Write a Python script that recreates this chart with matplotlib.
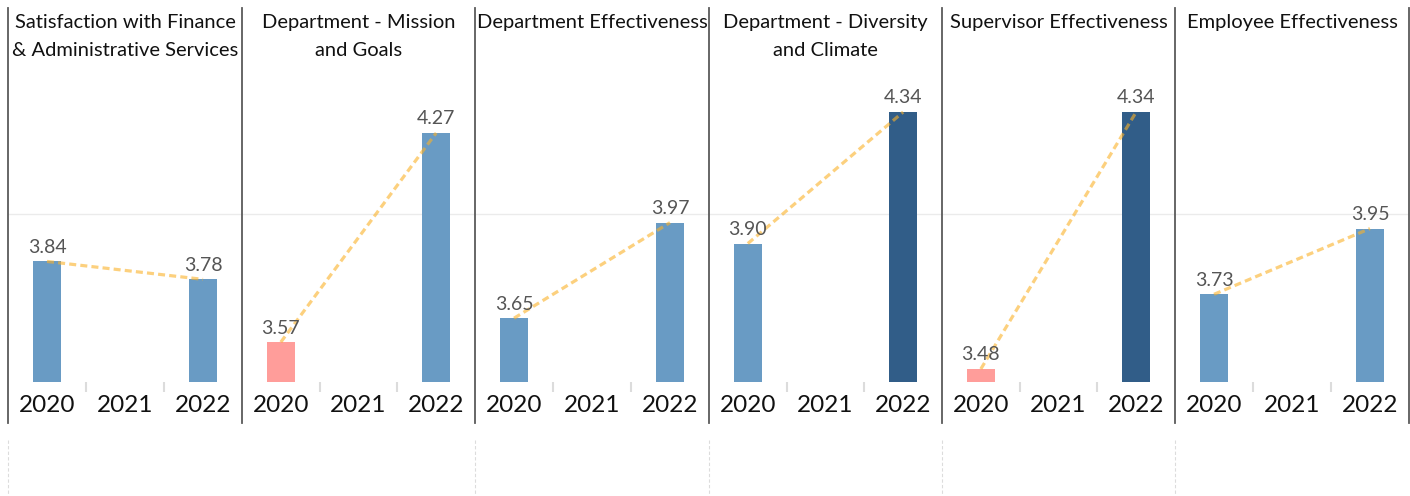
import matplotlib
matplotlib.use('Agg')
import matplotlib.pyplot as plt
from matplotlib.lines import Line2D

plt.rcParams['font.family'] = ['Lato', 'DejaVu Sans']

titles = ['Satisfaction with Finance\n& Administrative Services',
          'Department - Mission\nand Goals',
          'Department Effectiveness',
          'Department - Diversity\nand Climate',
          'Supervisor Effectiveness',
          'Employee Effectiveness']
years = ['2020', '2021', '2022']
v2020 = [3.84, 3.57, 3.65, 3.90, 3.48, 3.73]
v2022 = [3.78, 4.27, 3.97, 4.34, 4.34, 3.95]
# colour group of each bar
c2020 = ['mid', 'low', 'mid', 'mid', 'low', 'mid']
c2022 = ['mid', 'mid', 'mid', 'high', 'high', 'mid']
palette = {'low': '#ff9d9a', 'mid': '#699bc4', 'high': '#315d88'}

W, H = 1410, 496
fig = plt.figure(figsize=(W / 100, H / 100), dpi=100)

edges = [8, 242, 475, 709, 942, 1175, 1409]
top_px, bot_px = 75, 382

for i in range(6):
    x0, x1 = edges[i], edges[i + 1]
    ax = fig.add_axes([x0 / W, 1 - bot_px / H, (x1 - x0) / W, (bot_px - top_px) / H])
    xs = [0, 2]
    vals = [v2020[i], v2022[i]]
    ax.bar(xs, vals, width=0.36, color=[palette[c2020[i]], palette[c2022[i]]], zorder=2)
    ax.plot(xs, vals, ls=(0, (2.2, 1.3)), color='#fbb228', alpha=0.6, lw=2.3, zorder=3)
    for x, v in zip(xs, vals):
        ax.annotate(f'{v:.2f}', (x, v), xytext=(0, 4), textcoords='offset points',
                    ha='center', va='bottom', fontsize=14, color='#555555', zorder=4)
    ax.axhline(4.0, color='#ebebeb', lw=1, zorder=0)
    ax.set_xlim(-0.5, 2.5)
    ax.set_ylim(3.4365, 4.464)
    ax.set_xticks([0, 1, 2], years)
    ax.set_xticks([0.5, 1.5], minor=True)
    ax.tick_params(axis='x', which='major', length=0, labelsize=17.5, pad=9, colors='#111111')
    ax.tick_params(axis='x', which='minor', length=7, width=1.5, color='#dcdcdc')
    ax.set_yticks([])
    for s in ax.spines.values():
        s.set_visible(False)
    fig.text((x0 + x1) / 2 / W, 1 - 14 / H, titles[i], ha='center', va='top',
             fontsize=14.5, linespacing=1.75, color='#111111')

for x in edges:
    fig.add_artist(Line2D([x / W, x / W], [1 - 8 / H, 1 - 423 / H], color='#5a5a5a', lw=1.3))

for x in [8, 475, 709, 942, 1175]:
    fig.add_artist(Line2D([x / W, x / W], [1 - 440 / H, 0], color='#dcdcdc', lw=0.8, ls=(0, (3, 2))))

fig.savefig('out.png', dpi=100)
